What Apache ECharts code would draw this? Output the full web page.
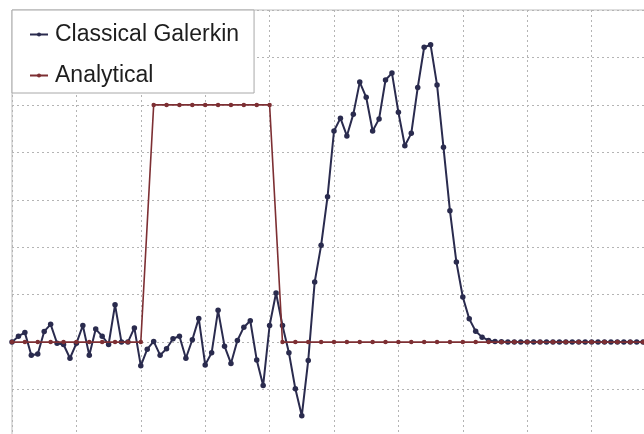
<!DOCTYPE html>
<html>
<head>
<meta charset="utf-8">
<script src="https://cdn.jsdelivr.net/npm/echarts@6/dist/echarts.min.js"></script>
<style>
html,body{margin:0;padding:0;background:#fff;}
#chart{width:644px;height:434px;}
</style>
</head>
<body>
<div id="chart"></div>
<script>
// Series names
const seriesNames = ['Classical Galerkin', 'Analytical'];
// Sampling steps along x (in grid units)
const galerkinStep = 0.1;
const analyticalStep = 0.2;
// Classical Galerkin values (x = 0, 0.1, 0.2, ...)
const galerkinValues = [
  0, 0.025, 0.04, -0.055, -0.05, 0.045, 0.075, -0.005, -0.01, -0.068,
  -0.005, 0.07, -0.055, 0.055, 0.025, -0.01, 0.157, 0.0, 0.0, 0.06,
  -0.1, -0.03, 0.003, -0.055, -0.028, 0.014, 0.025, -0.068, 0.01, 0.1,
  -0.096, -0.045, 0.134, -0.017, -0.09, 0.007, 0.063, 0.09, -0.075, -0.183,
  0.07, 0.207, 0.07, -0.045, -0.197, -0.31, -0.077, 0.253, 0.408, 0.613,
  0.89, 0.944, 0.869, 0.961, 1.096, 1.032, 0.89, 0.941, 1.105, 1.134,
  0.969, 0.828, 0.88, 1.073, 1.243, 1.253, 1.084, 0.821, 0.554, 0.338,
  0.19, 0.098, 0.046, 0.021, 0.007, 0.003, 0.001, 0, 0, 0,
  0, 0, 0, 0, 0, 0, 0, 0, 0, 0,
  0, 0, 0, 0, 0, 0, 0, 0, 0, 0,
  0
];
// Analytical values (x = 0, 0.2, 0.4, ...)
const analyticalValues = [
  0, 0, 0, 0, 0, 0, 0, 0, 0, 0,
  0, 1, 1, 1, 1, 1, 1, 1, 1, 1,
  1, 0, 0, 0, 0, 0, 0, 0, 0, 0,
  0, 0, 0, 0, 0, 0, 0, 0, 0, 0,
  0, 0, 0, 0, 0, 0, 0, 0, 0, 0,
  0
];

const galerkinData = galerkinValues.map((v, i) => [+(i * galerkinStep).toFixed(2), v]);
const analyticalData = analyticalValues.map((v, i) => [+(i * analyticalStep).toFixed(2), v]);

const chart = echarts.init(document.getElementById('chart'), null, {renderer: 'canvas'});
const gridLine = {show: true, lineStyle: {color: '#b4b4b4', width: 1, type: [2, 3]}};
chart.setOption({
  animation: false,
  backgroundColor: '#ffffff',
  grid: {left: 12, top: 10, width: 644, height: 427, show: true, borderColor: '#bdbdbd', borderWidth: 1,
         containLabel: false, outerBoundsMode: 'none'},
  xAxis: {
    type: 'value', min: 0, max: 10, interval: 1,
    axisLine: {show: false}, axisTick: {show: false}, axisLabel: {show: false},
    splitLine: gridLine
  },
  yAxis: {
    type: 'value', min: -0.4, max: 1.4, interval: 0.2,
    axisLine: {show: false}, axisTick: {show: false}, axisLabel: {show: false},
    splitLine: gridLine
  },
  legend: {
    orient: 'vertical', left: 12, top: 10,
    backgroundColor: '#ffffff', borderColor: '#a8a8a8', borderWidth: 1,
    padding: [13, 15, 6, 17], itemGap: 18, itemWidth: 18, itemHeight: 5,
    textStyle: {fontFamily: 'Liberation Sans, Arial, sans-serif', fontSize: 23, color: '#1e1e1e', padding: [0, 0, 0, 2]},
    data: seriesNames
  },
  series: [
    {
      name: seriesNames[0], type: 'line', data: galerkinData,
      symbol: 'circle', symbolSize: 5.5,
      lineStyle: {color: '#2a2b4e', width: 2},
      itemStyle: {color: '#2a2b4e'},
      z: 3
    },
    {
      name: seriesNames[1], type: 'line', data: analyticalData,
      symbol: 'circle', symbolSize: 4.5,
      lineStyle: {color: '#7d2f33', width: 1.6},
      itemStyle: {color: '#7d2f33'},
      z: 4
    }
  ]
});
</script>
</body>
</html>
